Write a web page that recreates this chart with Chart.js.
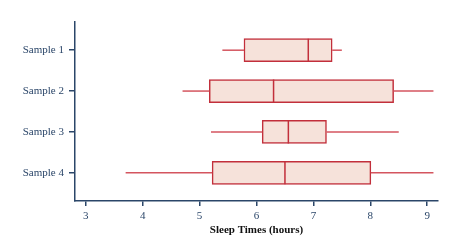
<!DOCTYPE html>
<html>
<head>
<meta charset="utf-8">
<script src="https://cdn.jsdelivr.net/npm/chart.js@4/dist/chart.umd.min.js"></script>
<style>
  html, body { margin: 0; padding: 0; background: #fff; }
  #wrap { width: 463px; height: 252px; }
</style>
</head>
<body>
<div id="wrap"><canvas id="chart"></canvas></div>
<script>
// box plot values (hours)
const samples = ['Sample 1', 'Sample 2', 'Sample 3', 'Sample 4'];
const mins    = [5.40, 4.70, 5.20, 3.70];
const q1s     = [5.78, 5.17, 6.10, 5.22];
const medians = [6.91, 6.30, 6.56, 6.50];
const q3s     = [7.33, 8.41, 7.23, 8.01];
const maxs    = [7.50, 9.11, 8.50, 9.11];
const xTicks  = [3, 4, 5, 6, 7, 8, 9];

const boxLine = '#c22f3b';
const whiskerLine = '#d4555f';
const boxFill = '#f6e2da';
const axisColor = '#2b4669';
const halfBox = 0.28; // half box height in category units

const datasets = [{
  type: 'bar',
  data: samples.map((s, i) => ({ y: i + 1, x: [q1s[i], q3s[i]] })),
  backgroundColor: boxFill,
  borderColor: boxLine,
  borderWidth: 1.5,
  borderSkipped: false,
  barThickness: 23,
  order: 2
}];

samples.forEach((s, i) => {
  const y = i + 1;
  const line = (pts, color) => ({
    type: 'line',
    data: pts,
    borderColor: color,
    borderWidth: 1.5,
    pointRadius: 0,
    fill: false,
    order: 1
  });
  datasets.push(line([{ x: mins[i], y: y }, { x: q1s[i], y: y }], whiskerLine));
  datasets.push(line([{ x: q3s[i], y: y }, { x: maxs[i], y: y }], whiskerLine));
  datasets.push(line([{ x: medians[i], y: y - halfBox }, { x: medians[i], y: y + halfBox }], boxLine));
});

new Chart(document.getElementById('chart'), {
  type: 'bar',
  data: { datasets: datasets },
  options: {
    indexAxis: 'y',
    responsive: true,
    maintainAspectRatio: false,
    animation: false,
    layout: { padding: { top: 22, right: 25, bottom: 15, left: 0 } },
    plugins: { legend: { display: false }, tooltip: { enabled: false } },
    scales: {
      x: {
        type: 'linear',
        min: 2.81,
        max: 9.19,
        afterBuildTicks: (scale) => { scale.ticks = xTicks.map(v => ({ value: v })); },
        afterFit: (scale) => { scale.height = 36; },
        grid: { drawOnChartArea: false, color: axisColor, tickLength: 5, lineWidth: 1.5 },
        border: { color: axisColor, width: 1.5 },
        ticks: { color: axisColor, padding: 4, font: { family: 'Liberation Serif', size: 11 } },
        title: {
          display: true,
          text: 'Sleep Times (hours)',
          color: '#111',
          padding: { top: 2, bottom: 0 },
          font: { family: 'Liberation Serif', size: 11, weight: 'bold' }
        }
      },
      y: {
        type: 'linear',
        reverse: true,
        offset: false,
        min: 0.31,
        max: 4.69,
        afterBuildTicks: (scale) => { scale.ticks = samples.map((s, i) => ({ value: i + 1 })); },
        afterFit: (scale) => { scale.width = 75; },
        grid: { offset: false, drawOnChartArea: false, color: axisColor, tickLength: 6, lineWidth: 1.5 },
        border: { color: axisColor, width: 1.5 },
        ticks: {
          color: axisColor,
          padding: 5,
          font: { family: 'Liberation Serif', size: 11 },
          callback: (v) => samples[v - 1]
        }
      }
    }
  }
});
</script>
</body>
</html>
